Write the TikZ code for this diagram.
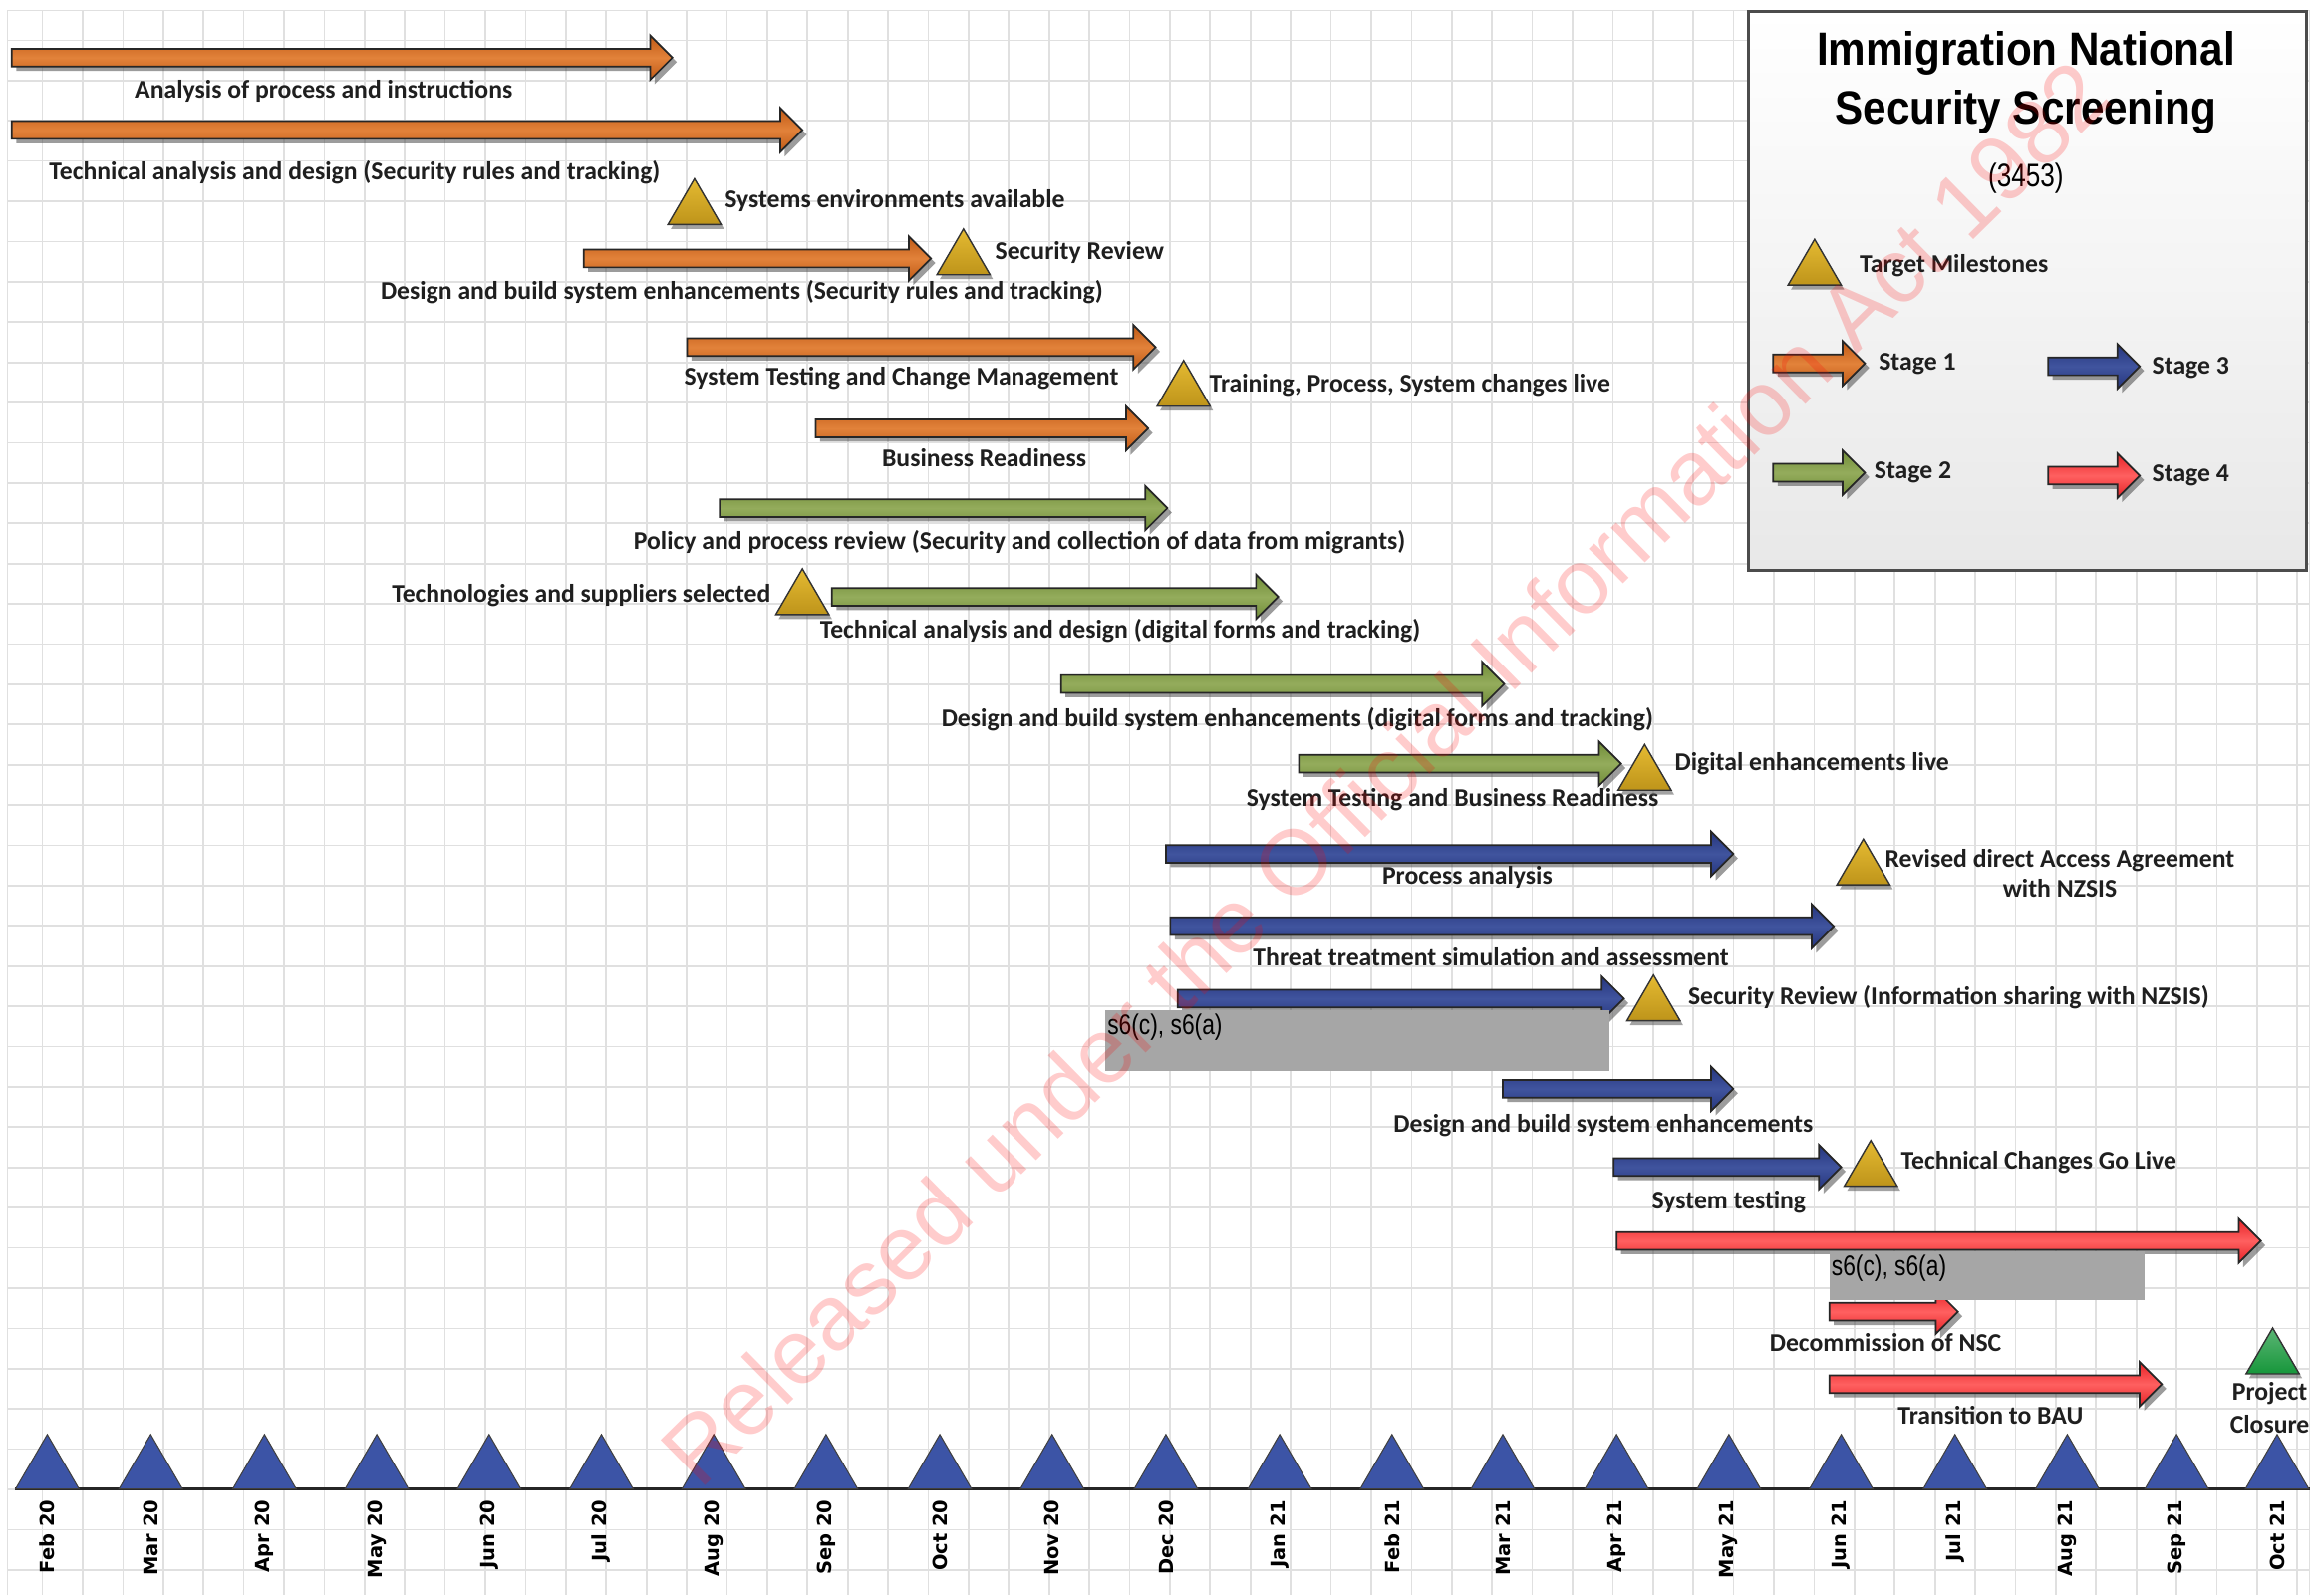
\documentclass[tikz,border=0pt]{standalone}
\usepackage{fontspec}
\setmainfont{Carlito}
\newfontfamily\headfont[FakeStretch=0.9]{Liberation Sans}
\newfontfamily\codefont[FakeStretch=0.8]{Liberation Sans}
\newfontfamily\monthfont{DejaVu Sans}
\newfontfamily\stampfont{Liberation Sans}

\definecolor{stageone}{RGB}{192,90,22}
\definecolor{stageonelt}{RGB}{226,130,58}
\definecolor{stagetwo}{RGB}{112,140,56}
\definecolor{stagetwolt}{RGB}{148,172,92}
\definecolor{stagethree}{RGB}{38,54,126}
\definecolor{stagethreelt}{RGB}{64,84,158}
\definecolor{stagefour}{RGB}{230,34,38}
\definecolor{stagefourlt}{RGB}{255,96,96}
\definecolor{goldmark}{RGB}{190,148,26}
\definecolor{goldmarklt}{RGB}{228,186,50}
\definecolor{monthblue}{RGB}{60,84,166}
\definecolor{closegreen}{RGB}{22,150,58}
\definecolor{redact}{RGB}{166,166,166}

\tikzset{
  s1/.style={draw=black!85,line width=.5pt,top color=stageone,bottom color=stageone,middle color=stageonelt},
  s2/.style={draw=black!85,line width=.5pt,top color=stagetwo,bottom color=stagetwo,middle color=stagetwolt},
  s3/.style={draw=black!85,line width=.5pt,top color=stagethree,bottom color=stagethree,middle color=stagethreelt},
  s4/.style={draw=black!85,line width=.5pt,top color=stagefour,bottom color=stagefour,middle color=stagefourlt},
  mstone/.style={draw=black!80,line width=.4pt,top color=goldmarklt,bottom color=goldmark},
  closure/.style={draw=black!80,line width=.4pt,top color=closegreen!70,bottom color=closegreen},
  gridln/.style={black!12,line width=.5pt},
  lbl/.style={font=\bfseries\fontsize{7.4}{9}\selectfont,text=black!88,inner sep=0pt},
  monthtri/.style={draw=black!75,line width=.3pt,fill=monthblue},
  monthlbl/.style={font=\monthfont\bfseries\fontsize{5.6}{6}\selectfont,rotate=90,anchor=east,inner sep=0pt},
  boxtext/.style={font=\codefont\fontsize{8.2}{9}\selectfont,anchor=north west,inner sep=0pt},
}

% arrow bar: style, x start, x end, y
\newcommand{\stagearrow}[4]{%
  \fill[black!70,opacity=.55,shift={(3,3)}] (#2,{#4-6}) -- ({#3-15},{#4-6}) -- ({#3-15},{#4-15}) -- (#3,#4)
    -- ({#3-15},{#4+15}) -- ({#3-15},{#4+6}) -- (#2,{#4+6}) -- cycle;
  \draw[#1] (#2,{#4-6}) -- ({#3-15},{#4-6}) -- ({#3-15},{#4-15}) -- (#3,#4)
    -- ({#3-15},{#4+15}) -- ({#3-15},{#4+6}) -- (#2,{#4+6}) -- cycle;}
% milestone: x centre, y base
\newcommand{\milestone}[3][mstone]{%
  \fill[black!65,opacity=.55,shift={(2,3)}] ({#2-18},#3) -- (#2,{#3-31}) -- ({#2+18},#3) -- cycle;
  \filldraw[#1] ({#2-18},#3) -- (#2,{#3-31}) -- ({#2+18},#3) -- cycle;}

\begin{document}
\begin{tikzpicture}[x=0.015cm,y=-0.015cm]
\useasboundingbox (0,0) rectangle (1568,1080);
\fill[white] (0,0) rectangle (1568,1080);

% grid
\foreach \k in {1,...,57}
  \draw[gridln] ({1.45+27.25*\k},7) -- ({1.45+27.25*\k},1080);
\foreach \k in {1,...,39}
  \draw[gridln] (5,{27.25*\k}) -- (1563,{27.25*\k});
\draw[gridln] (5,1080) -- (5,7) -- (1563,7) -- (1563,1080);

% time axis
\draw[black!85,line width=.9pt] (10,1008) -- (1563,1008);
\foreach \mx/\mn [count=\i] in {32/Feb 20,102/Mar 20,179/Apr 20,255/May 20,331/Jun 20,407/Jul 20,
    483/Aug 20,559/Sep 20,636/Oct 20,712/Nov 20,789/Dec 20,866/Jan 21,942/Feb 21,1017/Mar 21,
    1094/Apr 21,1170/May 21,1246/Jun 21,1323/Jul 21,1399/Aug 21,1473/Sep 21,1541/Oct 21}{
\filldraw[monthtri] ({\mx-21.5},1008) -- (\mx,971) -- ({\mx+21.5},1008) -- cycle;
\node[monthlbl] (m\i) at (\mx,1015) {\mn};}

% stage 1
\stagearrow{s1}{8}{455}{39}
\node[lbl] (a1) at (219,62) {Analysis of process and instructions};
\stagearrow{s1}{8}{543}{88}
\node[lbl] (a2) at (240,117) {Technical analysis and design (Security rules and tracking)};
\stagearrow{s1}{395}{630}{175}
\node[lbl] (a3) at (502,198) {Design and build system enhancements (Security rules and tracking)};
\stagearrow{s1}{465}{782}{235}
\node[lbl] (a4) at (610,256) {System Testing and Change Management};
\stagearrow{s1}{552}{777}{290}
\node[lbl] (a5) at (666,310) {Business Readiness};

% stage 2
\stagearrow{s2}{487}{790}{344}
\node[lbl] (b1) at (690,367) {Policy and process review (Security and collection of data from migrants)};
\stagearrow{s2}{563}{865}{404}
\node[lbl] (b2) at (758,427) {Technical analysis and design (digital forms and tracking)};
\stagearrow{s2}{718}{1018}{463}
\node[lbl] (b3) at (878,487) {Design and build system enhancements (digital forms and tracking)};
\stagearrow{s2}{879}{1097}{517}
\node[lbl] (b4) at (983,541) {System Testing and Business Readiness};

% stage 3
\stagearrow{s3}{789}{1173}{578}
\node[lbl] (c1) at (993,594) {Process analysis};
\stagearrow{s3}{792}{1241}{627}
\node[lbl] (c2) at (1009,648) {Threat treatment simulation and assessment};
\stagearrow{s3}{797}{1099}{676}
\stagearrow{s3}{1017}{1173}{737}
\node[lbl] (c4) at (1085,762) {Design and build system enhancements};
\stagearrow{s3}{1092}{1246}{790}
\node[lbl] (c5) at (1170,814) {System testing};

% stage 4
\stagearrow{s4}{1094}{1530}{840}
\stagearrow{s4}{1238}{1325}{888}
\node[lbl] (d2) at (1276,909) {Decommission of NSC};
\stagearrow{s4}{1238}{1463}{937}
\node[lbl] (d3) at (1347,958) {Transition to BAU};

% milestones
\milestone{470}{152}
\node[lbl,anchor=west] (ms1) at (490,136) {Systems environments available};
\milestone{652}{186}
\node[lbl,anchor=west] (ms2) at (673,171) {Security Review};
\milestone{801}{275}
\node[lbl,anchor=west] (ms3) at (818,261) {Training, Process, System changes live};
\milestone{543}{416}
\node[lbl,anchor=east] (ms4) at (522,403) {Technologies and suppliers selected};
\milestone{1113}{535}
\node[lbl,anchor=west] (ms5) at (1133,517) {Digital enhancements live};
\milestone{1261}{599}
\node[lbl,align=center,font=\bfseries\fontsize{7.4}{8.6}\selectfont] (ms6) at (1394,591) {Revised direct Access Agreement\\with NZSIS};
\milestone{1119}{691}
\node[lbl,anchor=west] (ms7) at (1142,675) {Security Review (Information sharing with NZSIS)};
\milestone{1266}{803}
\node[lbl,anchor=west] (ms8) at (1286,787) {Technical Changes Go Live};
\milestone[closure]{1538}{930}
\node[lbl,align=center,font=\bfseries\fontsize{7.4}{9.4}\selectfont] (pc) at (1536,953) {Project\\Closure};

% withheld
\fill[redact] (748,684) rectangle (1089,725);
\node[boxtext] (w1) at (749,686) {s6(c), s6(a)};
\fill[redact] (1238,847) rectangle (1451,880);
\node[boxtext] (w2) at (1239,849) {s6(c), s6(a)};

% legend
\draw[draw=black!70,line width=.8pt,top color=white,bottom color=black!9] (1183,8) rectangle (1561,386);
\node[font=\headfont\bfseries\fontsize{13.5}{15}\selectfont,inner sep=0pt] (t1) at (1371,36) {Immigration National};
\node[font=\headfont\bfseries\fontsize{13.5}{15}\selectfont,inner sep=0pt] (t2) at (1371,76) {Security Screening};
\node[font=\codefont\fontsize{9.4}{10}\selectfont,inner sep=0pt] (t3) at (1371,121) {(3453)};
\milestone{1228}{193}
\node[lbl,anchor=west] (lm) at (1258,180) {Target Milestones};
\stagearrow{s1}{1200}{1262}{246}
\node[lbl,anchor=west] (l1) at (1271,246) {Stage 1};
\stagearrow{s3}{1386}{1448}{248}
\node[lbl,anchor=west] (l3) at (1456,249) {Stage 3};
\stagearrow{s2}{1200}{1262}{320}
\node[lbl,anchor=west] (l2) at (1268,320) {Stage 2};
\stagearrow{s4}{1386}{1448}{322}
\node[lbl,anchor=west] (l4) at (1456,322) {Stage 4};

% release stamp
\node[font=\stampfont\fontsize{26.6}{30}\selectfont,text=red,opacity=.2,rotate=44.5,inner sep=0pt] (stamp) at (937,523) {Released under the Official Information Act 1982};
\end{tikzpicture}
\end{document}
